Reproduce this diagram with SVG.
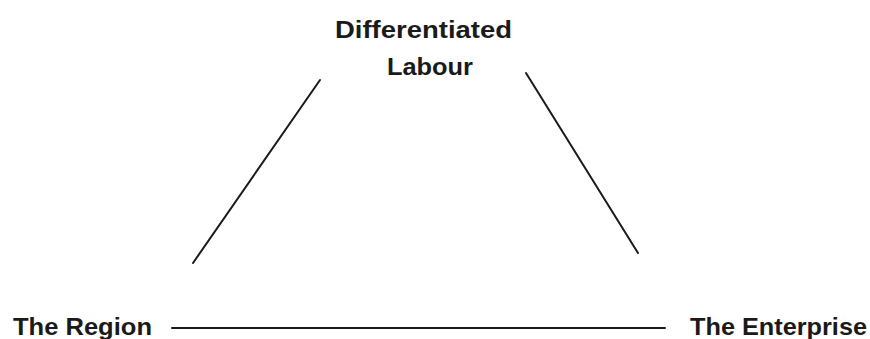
<svg xmlns="http://www.w3.org/2000/svg" width="870" height="339" viewBox="0 0 870 339">
<style>
text{font-family:"Liberation Sans","DejaVu Sans",sans-serif;font-weight:bold;font-size:24px;fill:#1a1a1a}
.c line{stroke:#1a1a1a;stroke-width:2;stroke-linecap:round}
</style>
<rect width="870" height="339" fill="#fff"/>
<g class="c" id="connectors">
<line x1="320" y1="80" x2="193" y2="263"/>
<line x1="526" y1="73" x2="638" y2="253"/>
<line x1="172" y1="328" x2="665" y2="328"/>
</g>
<g id="labour"><text x="335" y="38" textLength="177" lengthAdjust="spacingAndGlyphs">Differentiated</text><text x="387" y="75" textLength="86" lengthAdjust="spacingAndGlyphs">Labour</text></g>
<g id="region"><text x="13" y="335" textLength="139" lengthAdjust="spacingAndGlyphs">The Region</text></g>
<g id="enterprise"><text x="690" y="335" textLength="177" lengthAdjust="spacingAndGlyphs">The Enterprise</text></g>
</svg>
